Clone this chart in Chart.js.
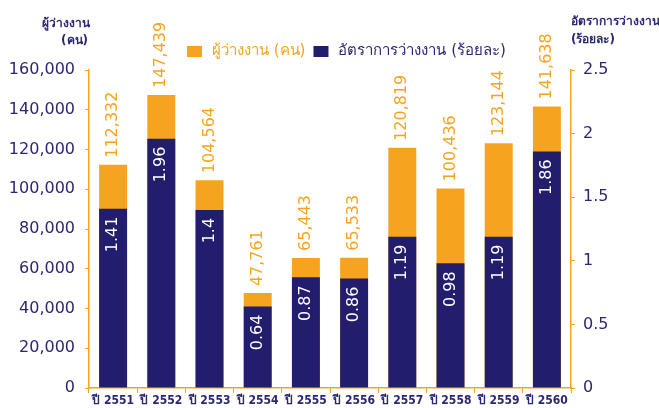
<!DOCTYPE html>
<html>
<head>
<meta charset="utf-8">
<script src="https://cdn.jsdelivr.net/npm/chart.js"></script>
<style>
  body { margin: 0; background: #fff; }
  #wrap { width: 659px; height: 408px; }
</style>
</head>
<body>
<div id="wrap"><canvas id="chart" width="659" height="408"></canvas></div>
<script>
// ข้อมูลจากภาพ
const ปี = ['ปี 2551', 'ปี 2552', 'ปี 2553', 'ปี 2554', 'ปี 2555', 'ปี 2556', 'ปี 2557', 'ปี 2558', 'ปี 2559', 'ปี 2560'];
const ผู้ว่างงาน = [112332, 147439, 104564, 47761, 65443, 65533, 120819, 100436, 123144, 141638];
const อัตราว่างงาน = [1.41, 1.96, 1.4, 0.64, 0.87, 0.86, 1.19, 0.98, 1.19, 1.86];
const ticksซ้าย = [0, 20000, 40000, 60000, 80000, 100000, 120000, 140000, 160000];
const ticksขวา = [0, 0.5, 1, 1.5, 2, 2.5];

const ส้ม = '#f6a41f';
const น้ำเงิน = '#231d6d';
const สีตัวอักษร = '#2b2871';
const ฟอนต์ = "'DejaVu Sans', 'Noto Sans', sans-serif";
const ฟอนต์แคบ = "'DejaVu Sans Condensed', 'DejaVu Sans', sans-serif";

function ใส่คอมมา(v) {
    return Number(v).toLocaleString('en-US');
}

// ป้ายตัวเลขแนวตั้งบนแท่ง
const ป้ายแท่ง = {
    id: 'barLabels',
    afterDatasetsDraw(chart) {
        const ctx = chart.ctx;
        chart.data.datasets.forEach((ds, i) => {
            const meta = chart.getDatasetMeta(i);
            meta.data.forEach((bar, j) => {
                ctx.save();
                ctx.font = '16px ' + ฟอนต์;
                ctx.textBaseline = 'middle';
                if (i === 0) {
                    ctx.fillStyle = ส้ม;
                    ctx.translate(bar.x, bar.y - 7);
                    ctx.rotate(-Math.PI / 2);
                    ctx.textAlign = 'left';
                    ctx.fillText(ใส่คอมมา(ds.data[j]), 0, 0);
                } else {
                    ctx.fillStyle = '#ffffff';
                    ctx.translate(bar.x, bar.y + 8);
                    ctx.rotate(-Math.PI / 2);
                    ctx.textAlign = 'right';
                    ctx.fillText(String(ds.data[j]), 0, 0);
                }
                ctx.restore();
            });
        });
    }
};

// คำอธิบายและชื่อแกน
const หัวเรื่อง = {
    id: 'headers',
    afterDraw(chart) {
        const ctx = chart.ctx;
        const area = chart.chartArea;
        ctx.save();
        ctx.font = 'bold 12px ' + ฟอนต์;
        ctx.fillStyle = สีตัวอักษร;
        ctx.textBaseline = 'middle';
        ctx.textAlign = 'right';
        ctx.fillText('ผู้ว่างงาน', area.left + 1, 24);
        ctx.fillText('(คน)', area.left - 1, 41);
        ctx.textAlign = 'left';
        ctx.fillText('อัตราการว่างงาน', area.right, 22);
        ctx.fillText('(ร้อยละ)', area.right, 40);

        // legend
        ctx.font = '15px ' + ฟอนต์;
        let x = 187;
        const y = 51;
        chart.data.datasets.forEach((ds, i) => {
            ctx.fillStyle = ds.backgroundColor;
            ctx.fillRect(x, y - 5, 15, 11);
            x += 25;
            ctx.fillStyle = i === 0 ? ส้ม : สีตัวอักษร;
            ctx.fillText(ds.label, x, y);
            x += ctx.measureText(ds.label).width + 8;
        });
        ctx.restore();
    }
};

new Chart(document.getElementById('chart').getContext('2d'), {
    type: 'bar',
    data: {
        labels: ปี,
        datasets: [{
            label: 'ผู้ว่างงาน (คน)',
            data: ผู้ว่างงาน,
            backgroundColor: ส้ม,
            yAxisID: 'y',
            order: 2
        }, {
            label: 'อัตราการว่างงาน (ร้อยละ)',
            data: อัตราว่างงาน,
            backgroundColor: น้ำเงิน,
            yAxisID: 'y1',
            order: 1
        }]
    },
    options: {
        responsive: false,
        animation: false,
        layout: { padding: { top: 70, left: 0, right: 0, bottom: 0 } },
        datasets: {
            bar: { grouped: false, barPercentage: 0.58, categoryPercentage: 1 }
        },
        plugins: {
            legend: { display: false },
            tooltip: { enabled: false }
        },
        scales: {
            x: {
                grid: { display: true, drawOnChartArea: false, offset: true, color: ส้ม, tickLength: 5 },
                border: { color: ส้ม, width: 1.5 },
                ticks: { color: สีตัวอักษร, font: { family: ฟอนต์แคบ, size: 12, weight: 'bold' }, padding: 1, maxRotation: 0, autoSkip: false },
                afterFit(scale) { scale.height = 20; }
            },
            y: {
                position: 'left',
                min: 0,
                max: 160000,
                afterBuildTicks(scale) { scale.ticks = ticksซ้าย.map(v => ({ value: v })); },
                grid: { drawOnChartArea: false, color: ส้ม, tickLength: 4 },
                border: { color: ส้ม, width: 1.5 },
                ticks: { color: สีตัวอักษร, font: { family: ฟอนต์, size: 16 }, padding: 10, callback: v => ใส่คอมมา(v) },
                afterFit(scale) { scale.width = 89; }
            },
            y1: {
                position: 'right',
                min: 0,
                max: 2.5,
                afterBuildTicks(scale) { scale.ticks = ticksขวา.map(v => ({ value: v })); },
                grid: { drawOnChartArea: false, color: ส้ม, tickLength: 4 },
                border: { color: ส้ม, width: 1.5 },
                ticks: { color: สีตัวอักษร, font: { family: ฟอนต์, size: 16 }, padding: 8, callback: v => String(v) },
                afterFit(scale) { scale.width = 88; }
            }
        }
    },
    plugins: [ป้ายแท่ง, หัวเรื่อง]
});
</script>
</body>
</html>
